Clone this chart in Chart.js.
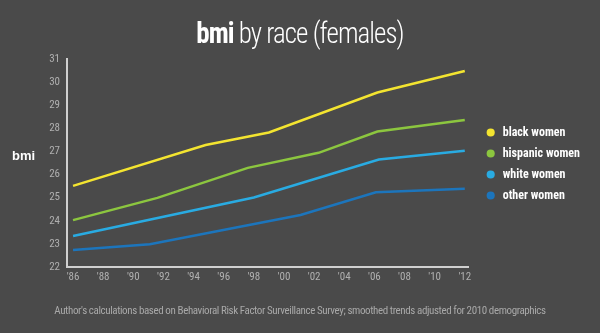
<!DOCTYPE html>
<html>
<head>
<meta charset="utf-8">
<script src="https://cdn.jsdelivr.net/npm/chart.js@4.4.1/dist/chart.umd.min.js"></script>
<style>
  body { margin: 0; background: #4a4a4a; }
  #wrap { position: relative; width: 600px; height: 333px; background: #4a4a4a; overflow: hidden; }
  #chart { position: absolute; left: 0; top: 0; }
  .title {
    position: absolute; left: 0; top: 16px; width: 600px; text-align: center;
    color: #fff; font-family: 'Roboto Condensed', 'Liberation Sans Narrow', Roboto, sans-serif;
    font-size: 29px; font-weight: 300; letter-spacing: -1px;
    transform: scaleX(0.93);
  }
  .title b { font-weight: 700; }
  .ylabel {
    position: absolute; left: 12px; top: 148px; color: #fff;
    font-family: 'Liberation Sans', Arial, sans-serif; font-weight: bold; font-size: 13px;
  }
  .note {
    position: absolute; left: 0; top: 304px; width: 600px; text-align: center;
    color: #a8a8a8; font-family: 'Roboto Condensed', 'Liberation Sans Narrow', Roboto, sans-serif;
    font-size: 11px; letter-spacing: -0.4px;
  }
</style>
</head>
<body>
<div id="wrap">
  <canvas id="chart" width="600" height="333"></canvas>
  <div class="title"><b>bmi</b> by race (females)</div>
  <div class="ylabel">bmi</div>
  <div class="note">Author's calculations based on Behavioral Risk Factor Surveillance Survey; smoothed trends adjusted for 2010 demographics</div>
</div>
<script>
// values
const seriesNames = ['black women', 'hispanic women', 'white women', 'other women'];
const seriesColors = ['#f3e430', '#8cc63f', '#29abe2', '#1c75bc'];

const blackYears = [1986, 1994.8, 1999, 2006.2, 2012];
const blackBmi = [25.51, 27.28, 27.82, 29.55, 30.48];

const hispanicYears = [1986, 1991.6, 1997.6, 2002.3, 2006.2, 2012];
const hispanicBmi = [24.03, 24.99, 26.29, 26.94, 27.86, 28.36];

const whiteYears = [1986, 1998, 2006.3, 2012];
const whiteBmi = [23.34, 25.01, 26.65, 27.03];

const otherYears = [1986, 1991.1, 2001.1, 2006.1, 2012];
const otherBmi = [22.74, 22.98, 24.25, 25.23, 25.39];

const tickYears = [1986, 1988, 1990, 1992, 1994, 1996, 1998, 2000, 2002, 2004, 2006, 2008, 2010, 2012];
const bmiTicks = [22, 23, 24, 25, 26, 27, 28, 29, 30, 31];

const narrow = "'Roboto Condensed', 'Liberation Sans Narrow', Roboto, sans-serif";

function toPoints(xs, ys) {
    return xs.map((x, i) => ({ x: x, y: ys[i] }));
}

const allSeries = [
    toPoints(blackYears, blackBmi),
    toPoints(hispanicYears, hispanicBmi),
    toPoints(whiteYears, whiteBmi),
    toPoints(otherYears, otherBmi)
];

// move the legend a little right of the plot and up
const nudgeLegend = {
    id: 'nudgeLegend',
    afterLayout(chart) {
        const lg = chart.legend;
        if (!lg) return;
        lg.left += 7;
        lg.right += 7;
        lg.top -= 7;
        lg.bottom -= 7;
    }
};

new Chart(document.getElementById('chart'), {
    type: 'line',
    data: {
        datasets: allSeries.map((pts, i) => ({
            label: seriesNames[i],
            data: pts,
            borderColor: seriesColors[i],
            backgroundColor: seriesColors[i],
            borderWidth: 2.5,
            pointRadius: 0,
            tension: 0
        }))
    },
    options: {
        responsive: false,
        animation: false,
        layout: { padding: { top: 59, left: 0, bottom: 50, right: 17 } },
        plugins: {
            tooltip: { enabled: false },
            legend: {
                position: 'right',
                labels: {
                    usePointStyle: true,
                    pointStyle: 'circle',
                    boxWidth: 12,
                    boxHeight: 4,
                    padding: 9,
                    color: '#ffffff',
                    font: { family: narrow, size: 12, weight: 'bold' }
                }
            }
        },
        scales: {
            x: {
                type: 'linear',
                min: 1985.6,
                max: 2012.26,
                grid: { display: false, drawTicks: false },
                border: { color: '#d0d0d0', width: 2 },
                afterFit: s => { s.height = 16; },
                afterBuildTicks: s => { s.ticks = tickYears.map(v => ({ value: v })); },
                ticks: {
                    padding: 4,
                    color: '#b0b0b0',
                    font: { family: narrow, size: 11 },
                    maxRotation: 0,
                    autoSkip: false,
                    callback: v => "'" + String(v).slice(2)
                }
            },
            y: {
                min: 22,
                max: 31,
                grid: { display: false, drawTicks: false },
                border: { color: '#d0d0d0', width: 2 },
                afterFit: s => { s.width = 67; },
                afterBuildTicks: s => { s.ticks = bmiTicks.map(v => ({ value: v })); },
                ticks: {
                    padding: 7,
                    color: '#b0b0b0',
                    font: { family: narrow, size: 11 }
                }
            }
        }
    },
    plugins: [nudgeLegend]
});
</script>
</body>
</html>
